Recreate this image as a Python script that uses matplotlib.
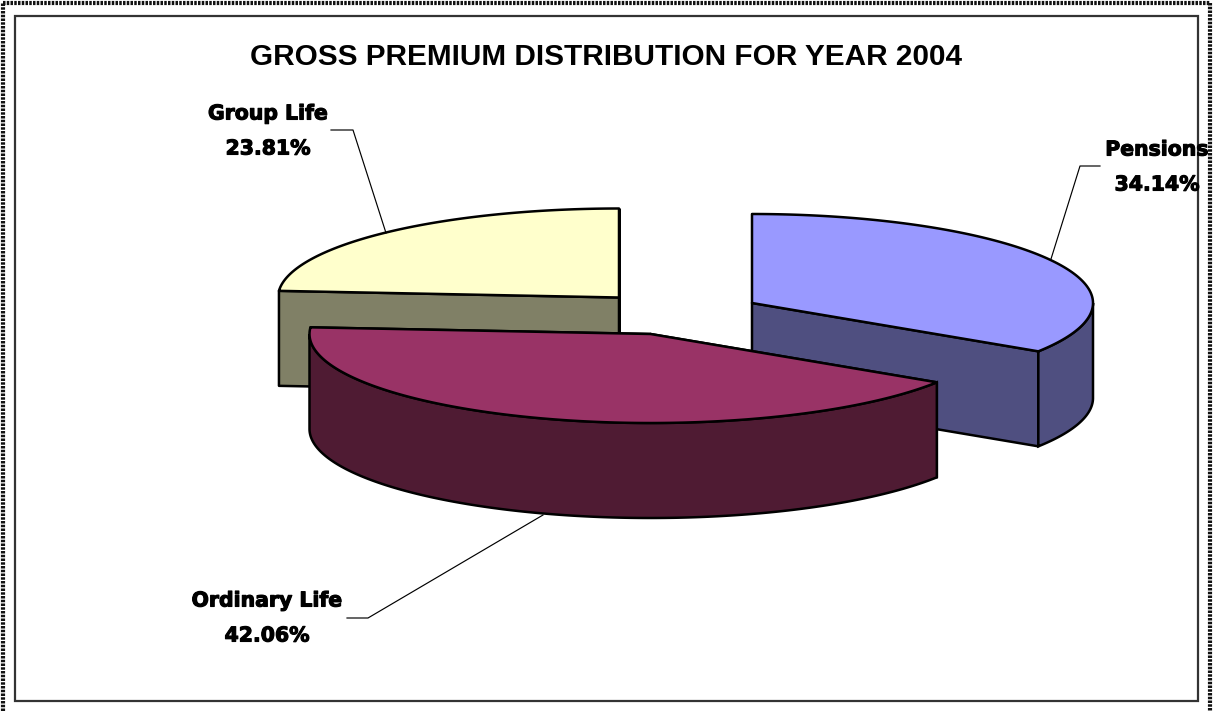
import numpy as np
import matplotlib
matplotlib.use('Agg')
import matplotlib.pyplot as plt
from matplotlib.patches import Polygon, Rectangle
import matplotlib.patheffects as pe

plt.rcParams['font.family'] = ['Liberation Sans', 'DejaVu Sans']

title = 'GROSS PREMIUM DISTRIBUTION FOR YEAR 2004'
labels = ['Pensions', 'Ordinary Life', 'Group Life']
values = [34.14, 42.06, 23.81]
top_colors = ['#9999FF', '#993366', '#FFFFCC']
side_colors = ['#4F4F80', '#4F1B33', '#808066']

# exploded centres of the slices, in image pixels
centers = [(752, 303), (650.5, 334), (619, 297.5)]
label_pos = [(1157, 150), (267, 601), (268, 114)]
leaders = [
    [(1100, 166), (1080, 166), (1051, 259)],
    [(347, 618), (368, 618), (543, 515)],
    [(331, 130), (353, 130), (386, 233)],
]
RX, RY, DEPTH = 341, 89, 95
EDGE = 1.8


def rim(c, a0, a1):
    # angle runs clockwise from the top of the squashed circle
    t = np.radians(np.linspace(a0, a1, 200))
    return np.column_stack([c[0] + RX * np.sin(t), c[1] - RY * np.cos(t)])


def drop(pts):
    return pts + [0, DEPTH]


def draw_slice(ax, c, a0, a1, top, side):
    c = np.array(c, dtype=float)
    # cut faces first, they are behind the rim wall
    for a in (a0, a1):
        edge = rim(c, a, a)[:1]
        face = np.vstack([c, edge, drop(edge), drop(c[None, :])])
        ax.add_patch(Polygon(face, fc=side, ec='black', lw=EDGE, joinstyle='round'))
    lo, hi = max(a0, 90), min(a1, 270)
    if lo < hi:
        arc = rim(c, lo, hi)
        ax.add_patch(Polygon(np.vstack([arc, drop(arc)[::-1]]), fc=side, ec='black', lw=EDGE))
    ax.add_patch(Polygon(np.vstack([c, rim(c, a0, a1)]), fc=top, ec='black', lw=EDGE, joinstyle='round'))


fig = plt.figure(figsize=(12.13, 7.11), dpi=100)
ax = fig.add_axes([0, 0, 1, 1])
ax.set_xlim(0, 1213)
ax.set_ylim(711, 0)
ax.axis('off')

# dotted page border and chart box
ax.plot([3, 3], [711, 3], color='#111111', lw=3, ls=(0, (0.6, 0.3)))
ax.plot([3, 1210], [3, 3], color='#111111', lw=3, ls=(0, (0.6, 0.3)))
ax.plot([1210, 1210], [3, 711], color='#111111', lw=3, ls=(0, (0.6, 0.3)))
ax.add_patch(Rectangle((14.5, 15.5), 1183.5, 685.5, fc='white', ec='#333333', lw=1.6))

ax.text(606, 57, title, ha='center', va='center', fontsize=21.4, fontweight='bold', color='black')

sweeps = 360 * np.array(values) / sum(values)
starts = np.concatenate([[0], np.cumsum(sweeps)[:-1]])

# back slices first, the large front one lies over them
for i in (2, 0, 1):
    draw_slice(ax, centers[i], starts[i], starts[i] + sweeps[i], top_colors[i], side_colors[i])

heavy = [pe.withStroke(linewidth=0.8, foreground='black')]
for i in range(len(labels)):
    x, y = label_pos[i]
    ax.text(x, y, labels[i], ha='center', va='center', fontsize=14.7, fontweight='bold',
            family='DejaVu Sans', path_effects=heavy, zorder=6)
    ax.text(x, y + 35, '%.2f%%' % values[i], ha='center', va='center', fontsize=14.7, fontweight='bold',
            family='DejaVu Sans', path_effects=heavy, zorder=6)
    xs, ys = zip(*leaders[i])
    ax.plot(xs, ys, color='black', lw=0.85, zorder=5)

fig.savefig('out.png', dpi=100)
